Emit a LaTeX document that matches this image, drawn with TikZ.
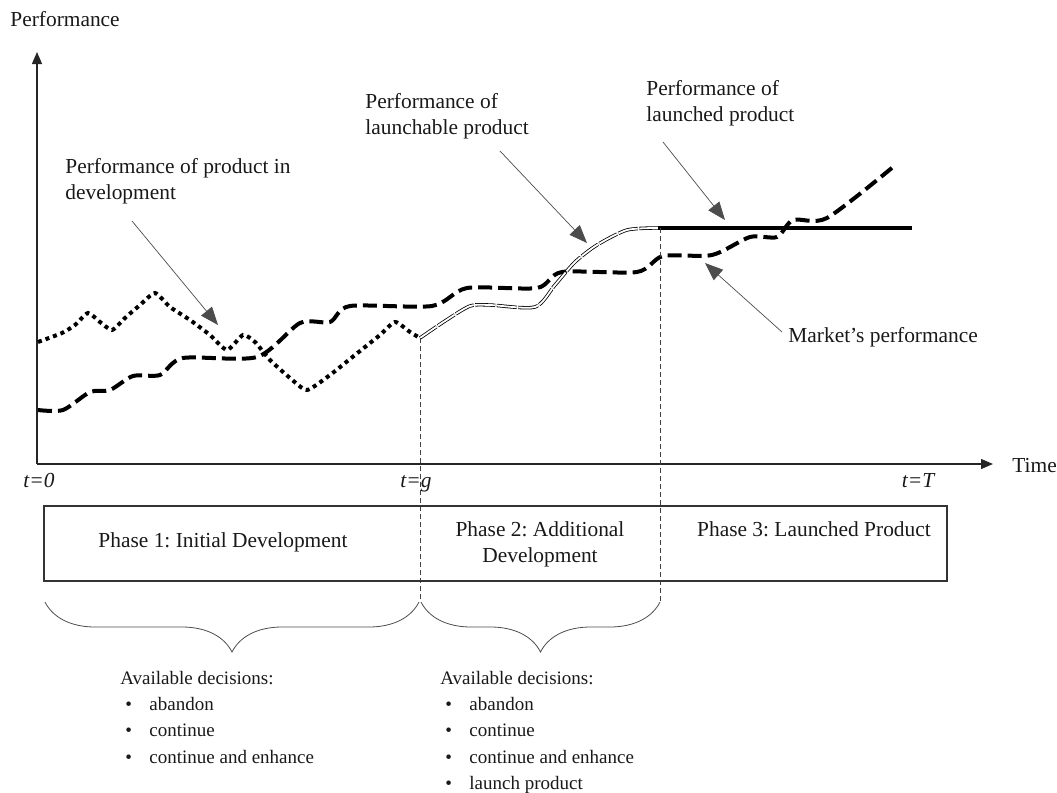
\documentclass[tikz,border=0pt]{standalone}
\usepackage{fontspec}
\setmainfont{Liberation Serif}
\usetikzlibrary{arrows.meta,decorations.pathreplacing}

\frenchspacing
\newcommand{\listfont}{\fontsize{9.5}{13.1}\selectfont}
\newcommand{\decitem}[1]{\\\hspace*{2.5pt}\makebox[12pt][l]{•}#1}

\begin{document}
\begin{tikzpicture}[x=0.5pt,y=-0.5pt,
  font=\fontsize{10.7}{13}\selectfont,
  axisline/.style={line width=0.65pt, draw=black!85, -{Triangle[length=6pt,width=5pt]}},
  pointer/.style={line width=0.35pt, draw=black!70, -{Triangle[length=9pt,width=7pt]}},
  txt/.style={inner sep=0pt, align=left, text=black!90},
  tmark/.style={txt, anchor=base, font=\fontsize{10.7}{13}\selectfont\itshape},
  devcurve/.style={line width=2pt, dash pattern=on 2pt off 2pt},
  marketcurve/.style={line width=2pt, dash pattern=on 7pt off 3pt},
  launchable/.style={double, double distance=0.9pt, line width=0.4pt, dash pattern=on 10pt off 0.8pt},
  launched/.style={line width=2pt},
  guide/.style={line width=0.45pt, draw=black!75, dash pattern=on 2.5pt off 1.5pt},
  phasebox/.style={draw=black!80, line width=0.9pt, minimum width=451.5pt, minimum height=37.5pt, inner sep=0pt},
  phasebrace/.style={draw=black!70, line width=0.4pt, decorate, decoration={brace, mirror, amplitude=25pt}},
]
\useasboundingbox (0,0) rectangle (1057,793);

% axes
\coordinate (origin) at (37,464);
\coordinate (ytop) at (37,52);
\coordinate (xend) at (993,464);
\draw[axisline] (origin) -- (ytop);
\draw[axisline] (origin) -- (xend);
\node[txt, anchor=base west] (ylab) at (10,26) {Performance};
\node[txt, anchor=base west] (xlab) at (1012,472) {Time};
\node[tmark] (t0) at (39,487) {t=0};
\node[tmark] (tg) at (416,487) {t=g};
\node[tmark] (tT) at (918,487) {t=T};

% performance of the product in development
\draw[devcurve] plot[smooth, tension=0.35] coordinates {
  (38,342) (62,333) (75,325) (88,313) (100,322) (112,330) (125,318) (140,305)
  (155,293) (170,307) (190,320) (210,335) (227,350) (243,335) (255,342)
  (270,360) (290,378) (307,390) (330,375) (355,355) (380,335) (395,322)
  (410,332) (420,338)};

% market performance
\draw[marketcurve] plot[smooth, tension=0.45] coordinates {
  (38,410) (63,410) (90,392) (110,390) (133,376) (160,375) (183,358) (257,357)
  (300,323) (330,322) (350,306) (432,306) (467,288) (537,288) (562,272)
  (637,272) (663,256) (712,255) (750,237) (777,237) (793,220) (827,218)
  (893,167)};

% performance of the launchable product
\draw[launchable] plot[smooth, tension=0.45] coordinates {
  (420,338) (445,321) (470,306) (490,305) (535,307) (555,285) (575,262)
  (597,245) (627,230) (658,228)};

% performance of the launched product
\coordinate (launch) at (658,228);
\coordinate (lend) at (912,228);
\draw[launched] (launch) -- (lend);

% vertical guides at t=g and at launch
\coordinate (gtop) at (420,338);
\coordinate (gbot) at (420,602);
\coordinate (lbot) at (660,602);
\coordinate (ltop) at (660,228);
\draw[guide] (gtop) -- (gbot);
\draw[guide] (ltop) -- (lbot);

% phases
\node[phasebox] (phases) at (495.5,543.5) {};
\node[txt, anchor=base] (ph1) at (223,547) {Phase 1: Initial Development};
\node[txt, anchor=north, align=center] (ph2) at (540,521.5) {Phase 2: Additional\\Development};
\node[txt, anchor=base] (ph3) at (814,536) {Phase 3: Launched Product};

% braces under the phases
\coordinate (b1l) at (45,602);
\coordinate (b1r) at (419,602);
\coordinate (b2l) at (421,602);
\coordinate (b2r) at (660,602);
\draw[phasebrace] (b1l) -- (b1r);
\draw[phasebrace] (b2l) -- (b2r);

% available decisions
\node[txt, anchor=north west, font=\listfont] (dec1) at (120,671)
  {Available decisions:\decitem{abandon}\decitem{continue}\decitem{continue and enhance}};
\node[txt, anchor=north west, font=\listfont] (dec2) at (440,671)
  {Available decisions:\decitem{abandon}\decitem{continue}\decitem{continue and enhance}\decitem{launch product}};

% curve labels and pointers
\node[txt, anchor=north west] (lab1) at (65,158.4) {Performance of product in\\development};
\node[txt, anchor=north west] (lab2) at (365,93.4) {Performance of\\launchable product};
\node[txt, anchor=north west] (lab3) at (646,80.4) {Performance of\\launched product};
\node[txt, anchor=base west] (lab4) at (788,342) {Market’s performance};

\coordinate (p1s) at (132,221);
\coordinate (p1e) at (218,325);
\coordinate (p2s) at (500,151);
\coordinate (p2e) at (587,243);
\coordinate (p3s) at (663,142);
\coordinate (p3e) at (725,220);
\coordinate (p4s) at (782,332);
\coordinate (p4e) at (705,263);
\draw[pointer] (p1s) -- (p1e);
\draw[pointer] (p2s) -- (p2e);
\draw[pointer] (p3s) -- (p3e);
\draw[pointer] (p4s) -- (p4e);
\end{tikzpicture}
\end{document}
